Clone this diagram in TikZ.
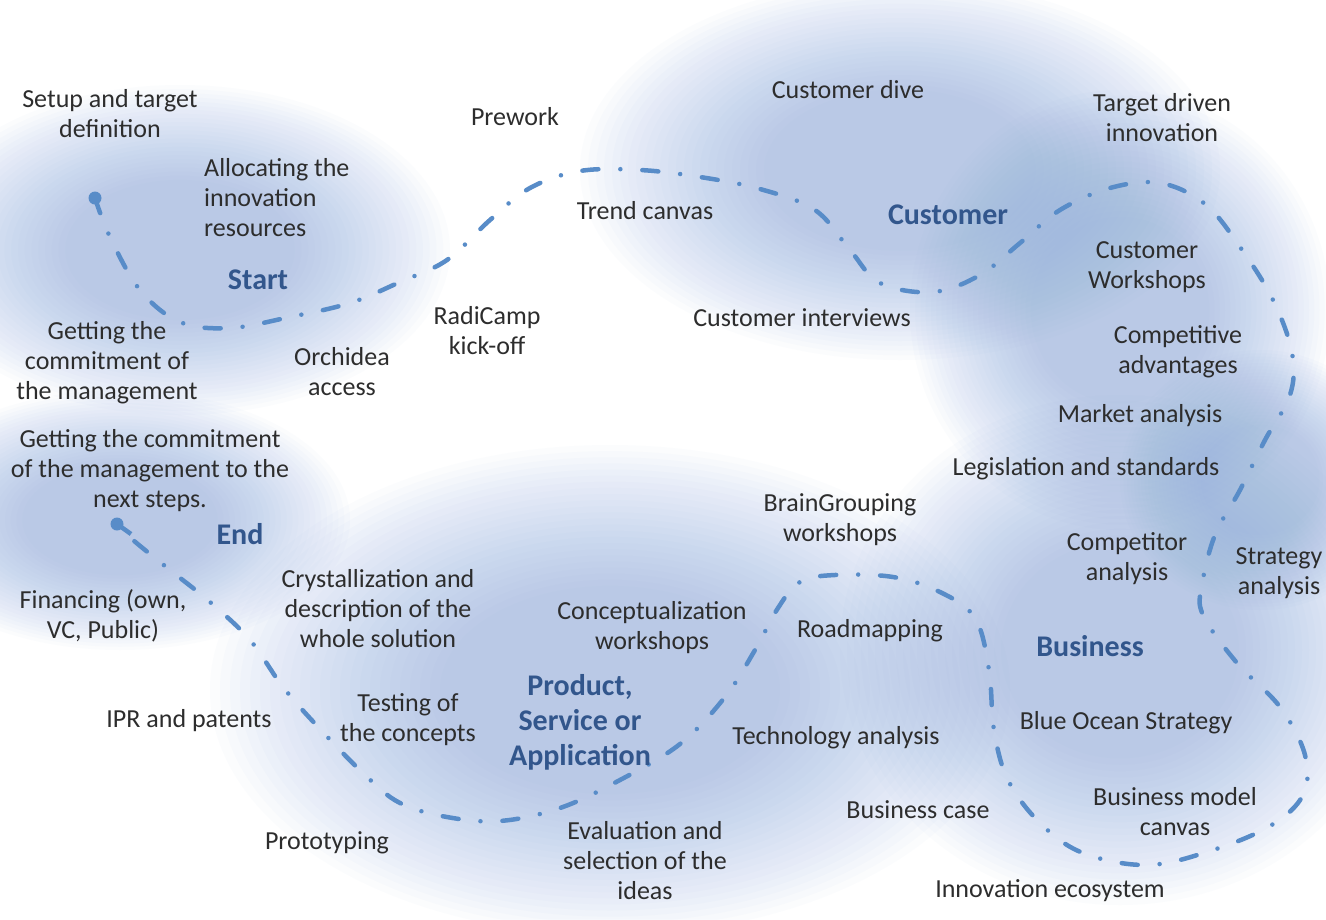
\documentclass[tikz,border=0pt]{standalone}
\usepackage{fontspec}
\setmainfont{Carlito}
\usetikzlibrary{calc}

\definecolor{cloudblue}{RGB}{140,172,222}
\definecolor{trailblue}{RGB}{88,140,200}
\definecolor{stagecol}{RGB}{50,86,140}
\definecolor{taskcol}{RGB}{45,45,45}

\tikzset{
  task/.style={inner sep=0pt, align=center, text=taskcol, font=\fontsize{26}{30}\selectfont},
  phase/.style={inner sep=0pt, align=center, text=stagecol, font=\fontsize{30}{35}\selectfont\bfseries},
  trail/.style={trailblue, line width=4.5pt, line cap=round,
    dash pattern=on 16pt off 22pt on 0pt off 22pt},
}

% soft cloud: centre x, centre y, radius x, radius y
\newcommand{\cloud}[4]{%
  \foreach \s in {1,...,24}
    \fill[cloudblue, opacity=0.03] (#1,#2) ellipse ({#3*(16+\s)/40} and {#4*(16+\s)/40});%
}

\begin{document}
\begin{tikzpicture}[x=1pt, y=-1pt]
  \useasboundingbox (0,0) rectangle (1326,919);
  \fill[white] (0,0) rectangle (1326,919);

  % background clouds
  \cloud{180}{250}{270}{165}
  \cloud{900}{170}{320}{190}
  \cloud{1120}{310}{210}{220}
  \cloud{1260}{480}{140}{130}
  \cloud{1120}{650}{280}{255}
  \cloud{610}{690}{400}{245}
  \cloud{120}{520}{230}{130}

  % the route
  \coordinate (begin) at (95,198);
  \coordinate (finish) at (117,524);
  \draw[trail] plot[smooth, tension=0.6] coordinates {
    (begin) (110,237) (140,290) (180,322) (230,328) (290,317) (350,303)
    (400,282) (447,260) (490,220) (530,188) (580,171) (640,170) (700,177)
    (760,189) (815,210) (850,250) (880,283) (933,292) (980,275) (1020,243)
    (1060,210) (1110,188) (1160,183) (1205,204) (1240,247) (1273,300)
    (1292,353) (1290,395) (1265,440) (1240,490) (1215,535) (1202,585)
    (1203,615) (1237,663) (1280,707) (1305,755) (1303,795) (1270,826)
    (1210,851) (1147,865) (1083,853) (1040,823) (1008,780) (994,730)
    (989,670) (975,618) (940,592) (893,577) (835,575) (800,582) (778,608)
    (755,650) (725,697) (680,744) (620,780) (560,808) (500,821) (447,817)
    (400,803) (365,775) (320,729) (283,687) (250,640) (210,602) (170,570)
    (133,540) (finish)};
  \draw[trailblue, line width=4.5pt] (finish) -- +(14,10);
  \fill[trailblue] (begin) circle (6.5);
  \fill[trailblue] (finish) circle (6.5);

  % phases
  \node[phase] (start) at (258,280) {Start};
  \node[phase] (customer) at (948,215) {Customer};
  \node[phase] (business) at (1090,646) {Business};
  \node[phase] (product) at (580,722) {Product,\\Service or\\Application};
  \node[phase] (end) at (240,534) {End};

  % tasks
  \node[task] (setup) at (110,114) {Setup and target\\definition};
  \node[task, anchor=west, align=left] (allocating) at (204,198) {Allocating the\\innovation\\resources};
  \node[task] (prework) at (515,117) {Prework};
  \node[task] (dive) at (848,90) {Customer dive};
  \node[task] (target) at (1162,118) {Target driven\\innovation};
  \node[task] (trend) at (645,211) {Trend canvas};
  \node[task] (commit) at (107,363) {Getting the\\commitment of\\the management};
  \node[task] (orchidea) at (342,372) {Orchidea\\access};
  \node[task] (radicamp) at (487,331) {RadiCamp\\kick-off};
  \node[task] (interviews) at (802,318) {Customer interviews};
  \node[task] (workshops) at (1147,267) {Customer\\Workshops};
  \node[task] (advantages) at (1178,352) {Competitive\\advantages};
  \node[task] (market) at (1140,416) {Market analysis};
  \node[task] (legislation) at (1086,469) {Legislation and standards};
  \node[task] (nextsteps) at (150,471) {Getting the commitment\\of the management to the\\next steps.};
  \node[task] (braingroup) at (840,520) {BrainGrouping\\workshops};
  \node[task] (competitor) at (1127,559) {Competitor\\analysis};
  \node[task] (strategy) at (1279,573) {Strategy\\analysis};
  \node[task] (financing) at (103,616) {Financing (own,\\VC, Public)};
  \node[task] (crystal) at (378,609) {Crystallization and\\description of the\\whole solution};
  \node[task] (concept) at (652,628) {Conceptualization\\workshops};
  \node[task] (roadmap) at (870,631) {Roadmapping};
  \node[task] (ipr) at (189,721) {IPR and patents};
  \node[task] (testing) at (408,720) {Testing of\\the concepts};
  \node[task] (technology) at (836,738) {Technology analysis};
  \node[task] (blueocean) at (1126,723) {Blue Ocean Strategy};
  \node[task] (case) at (918,810) {Business case};
  \node[task] (model) at (1175,812) {Business model\\canvas};
  \node[task] (prototyping) at (327,843) {Prototyping};
  \node[task] (evaluation) at (645,861) {Evaluation and\\selection of the\\ideas};
  \node[task] (ecosystem) at (1050,891) {Innovation ecosystem};
\end{tikzpicture}
\end{document}
